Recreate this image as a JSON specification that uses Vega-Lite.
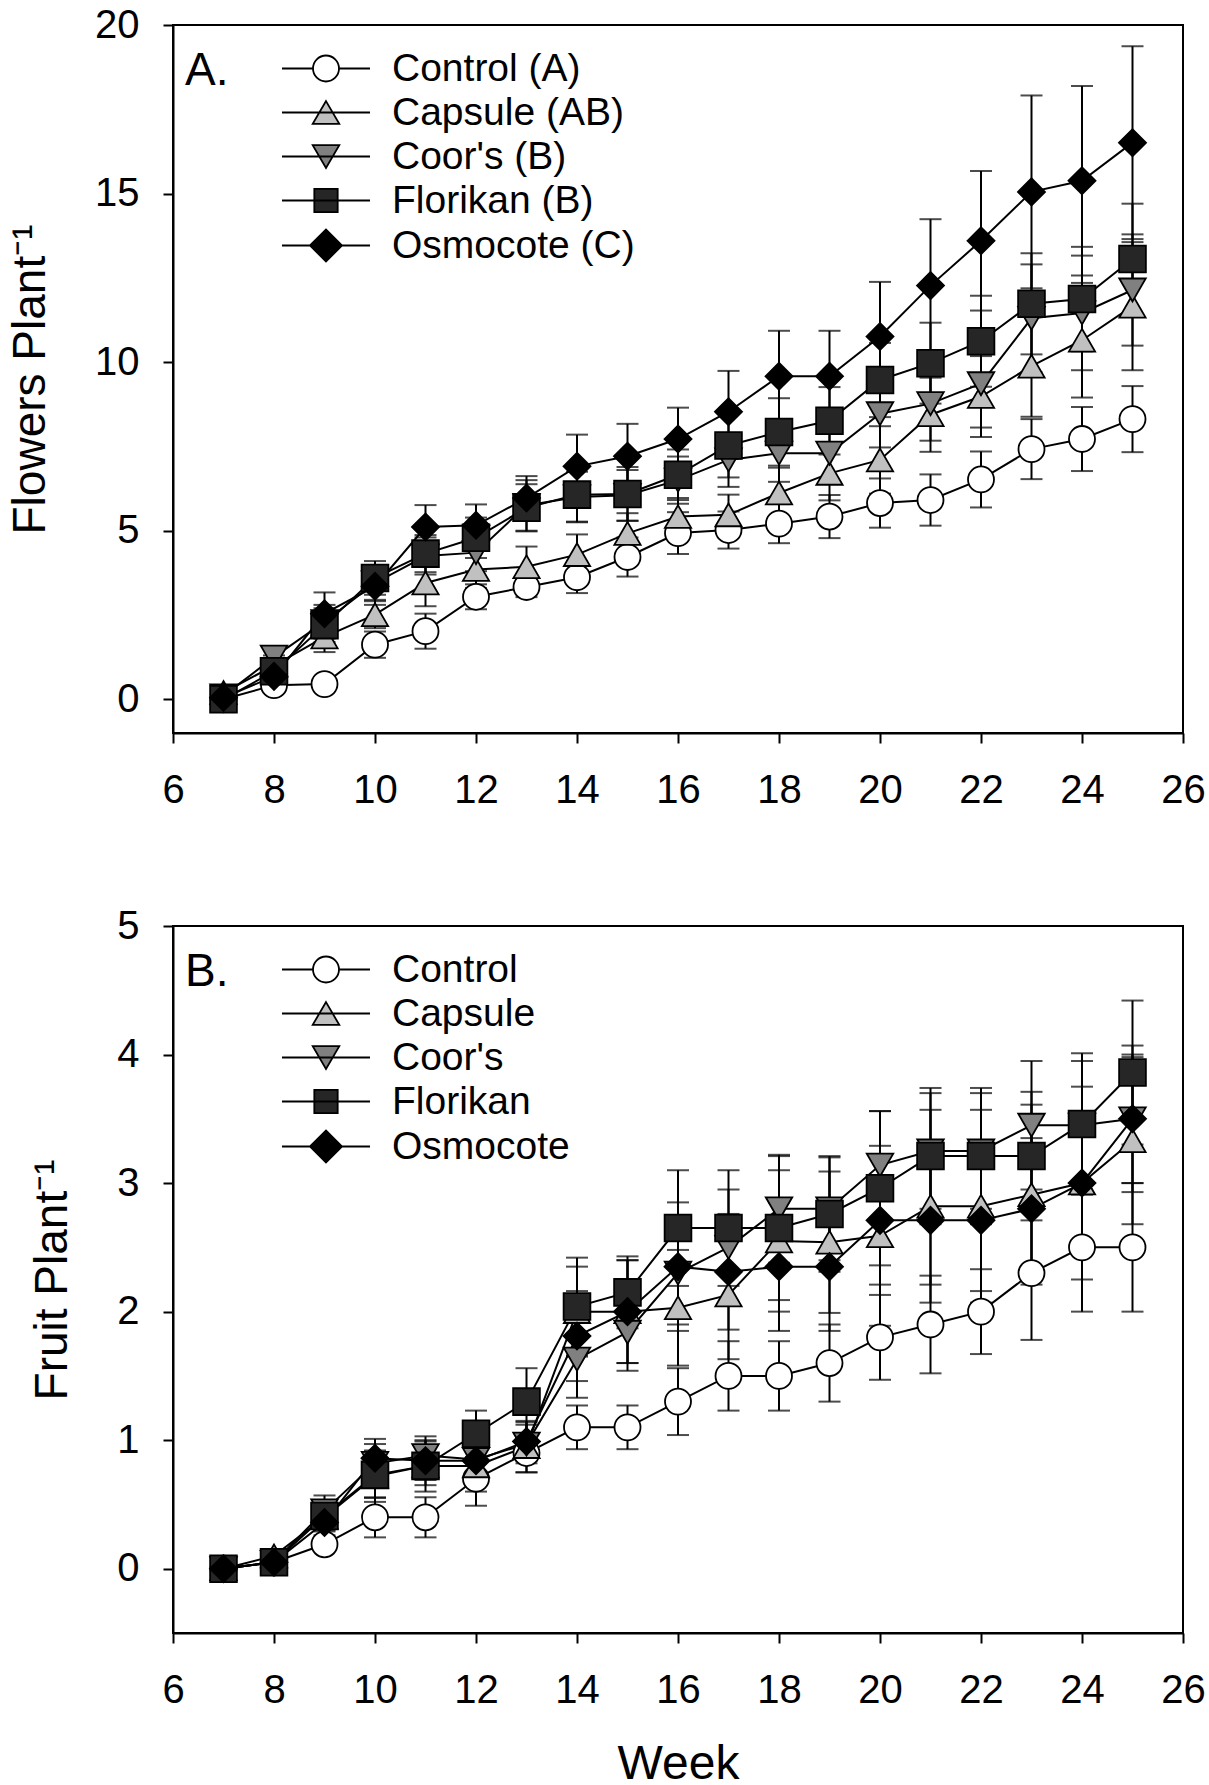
{
  "$schema": "https://vega.github.io/schema/vega-lite/v6.json",
  "padding": {"left": 6, "top": 4, "right": 0, "bottom": 0},
  "bounds": "flush",
  "spacing": 193,
  "datasets": {
    "flowers": [
      {"week":7,"treatment":"Control","mean":0,"se":0},{"week":8,"treatment":"Control","mean":0.42,"se":0.1},{"week":9,"treatment":"Control","mean":0.45,"se":0.1},{"week":10,"treatment":"Control","mean":1.62,"se":0.39},{"week":11,"treatment":"Control","mean":2.02,"se":0.52},{"week":12,"treatment":"Control","mean":3.04,"se":0.37},{"week":13,"treatment":"Control","mean":3.33,"se":0.3},{"week":14,"treatment":"Control","mean":3.62,"se":0.47},{"week":15,"treatment":"Control","mean":4.22,"se":0.58},{"week":16,"treatment":"Control","mean":4.93,"se":0.62},{"week":17,"treatment":"Control","mean":5.02,"se":0.55},{"week":18,"treatment":"Control","mean":5.21,"se":0.58},{"week":19,"treatment":"Control","mean":5.42,"se":0.64},{"week":20,"treatment":"Control","mean":5.82,"se":0.73},{"week":21,"treatment":"Control","mean":5.91,"se":0.76},{"week":22,"treatment":"Control","mean":6.52,"se":0.83},{"week":23,"treatment":"Control","mean":7.42,"se":0.89},{"week":24,"treatment":"Control","mean":7.72,"se":0.95},{"week":25,"treatment":"Control","mean":8.31,"se":0.98},
      {"week":7,"treatment":"Capsule","mean":0.2,"se":0.1},{"week":8,"treatment":"Capsule","mean":1.0,"se":0.3},{"week":9,"treatment":"Capsule","mean":1.85,"se":0.45},{"week":10,"treatment":"Capsule","mean":2.51,"se":0.4},{"week":11,"treatment":"Capsule","mean":3.45,"se":0.69},{"week":12,"treatment":"Capsule","mean":3.85,"se":0.55},{"week":13,"treatment":"Capsule","mean":3.93,"se":0.6},{"week":14,"treatment":"Capsule","mean":4.29,"se":0.6},{"week":15,"treatment":"Capsule","mean":4.92,"se":0.6},{"week":16,"treatment":"Capsule","mean":5.42,"se":0.55},{"week":17,"treatment":"Capsule","mean":5.47,"se":0.6},{"week":18,"treatment":"Capsule","mean":6.12,"se":0.75},{"week":19,"treatment":"Capsule","mean":6.7,"se":0.8},{"week":20,"treatment":"Capsule","mean":7.1,"se":1.0},{"week":21,"treatment":"Capsule","mean":8.44,"se":1.1},{"week":22,"treatment":"Capsule","mean":8.98,"se":1.2},{"week":23,"treatment":"Capsule","mean":9.88,"se":1.5},{"week":24,"treatment":"Capsule","mean":10.65,"se":1.7},{"week":25,"treatment":"Capsule","mean":11.66,"se":1.9},
      {"week":7,"treatment":"Coor's","mean":0.1,"se":0.05},{"week":8,"treatment":"Coor's","mean":1.25,"se":0.2},{"week":9,"treatment":"Coor's","mean":2.3,"se":0.5},{"week":10,"treatment":"Coor's","mean":3.45,"se":0.5},{"week":11,"treatment":"Coor's","mean":4.25,"se":0.55},{"week":12,"treatment":"Coor's","mean":4.35,"se":0.55},{"week":13,"treatment":"Coor's","mean":5.75,"se":0.75},{"week":14,"treatment":"Coor's","mean":6.0,"se":0.75},{"week":15,"treatment":"Coor's","mean":6.05,"se":0.75},{"week":16,"treatment":"Coor's","mean":6.5,"se":0.7},{"week":17,"treatment":"Coor's","mean":7.1,"se":0.8},{"week":18,"treatment":"Coor's","mean":7.3,"se":0.85},{"week":19,"treatment":"Coor's","mean":7.3,"se":0.9},{"week":20,"treatment":"Coor's","mean":8.47,"se":1.0},{"week":21,"treatment":"Coor's","mean":8.77,"se":1.1},{"week":22,"treatment":"Coor's","mean":9.36,"se":1.3},{"week":23,"treatment":"Coor's","mean":11.3,"se":1.6},{"week":24,"treatment":"Coor's","mean":11.46,"se":1.7},{"week":25,"treatment":"Coor's","mean":12.14,"se":1.65},
      {"week":7,"treatment":"Florikan","mean":0.0,"se":0.05},{"week":8,"treatment":"Florikan","mean":0.83,"se":0.2},{"week":9,"treatment":"Florikan","mean":2.2,"se":0.5},{"week":10,"treatment":"Florikan","mean":3.6,"se":0.5},{"week":11,"treatment":"Florikan","mean":4.32,"se":0.55},{"week":12,"treatment":"Florikan","mean":4.79,"se":0.6},{"week":13,"treatment":"Florikan","mean":5.68,"se":0.7},{"week":14,"treatment":"Florikan","mean":6.07,"se":0.8},{"week":15,"treatment":"Florikan","mean":6.09,"se":0.8},{"week":16,"treatment":"Florikan","mean":6.66,"se":0.75},{"week":17,"treatment":"Florikan","mean":7.53,"se":0.95},{"week":18,"treatment":"Florikan","mean":7.93,"se":1.0},{"week":19,"treatment":"Florikan","mean":8.26,"se":1.0},{"week":20,"treatment":"Florikan","mean":9.47,"se":1.1},{"week":21,"treatment":"Florikan","mean":9.97,"se":1.2},{"week":22,"treatment":"Florikan","mean":10.62,"se":1.35},{"week":23,"treatment":"Florikan","mean":11.73,"se":1.5},{"week":24,"treatment":"Florikan","mean":11.87,"se":1.55},{"week":25,"treatment":"Florikan","mean":13.06,"se":1.64},
      {"week":7,"treatment":"Osmocote","mean":0.05,"se":0.05},{"week":8,"treatment":"Osmocote","mean":0.68,"se":0.2},{"week":9,"treatment":"Osmocote","mean":2.54,"se":0.63},{"week":10,"treatment":"Osmocote","mean":3.35,"se":0.55},{"week":11,"treatment":"Osmocote","mean":5.11,"se":0.65},{"week":12,"treatment":"Osmocote","mean":5.16,"se":0.62},{"week":13,"treatment":"Osmocote","mean":5.97,"se":0.65},{"week":14,"treatment":"Osmocote","mean":6.91,"se":0.94},{"week":15,"treatment":"Osmocote","mean":7.21,"se":0.96},{"week":16,"treatment":"Osmocote","mean":7.72,"se":0.93},{"week":17,"treatment":"Osmocote","mean":8.53,"se":1.21},{"week":18,"treatment":"Osmocote","mean":9.58,"se":1.35},{"week":19,"treatment":"Osmocote","mean":9.58,"se":1.35},{"week":20,"treatment":"Osmocote","mean":10.76,"se":1.62},{"week":21,"treatment":"Osmocote","mean":12.27,"se":1.97},{"week":22,"treatment":"Osmocote","mean":13.6,"se":2.07},{"week":23,"treatment":"Osmocote","mean":15.05,"se":2.86},{"week":24,"treatment":"Osmocote","mean":15.38,"se":2.81},{"week":25,"treatment":"Osmocote","mean":16.51,"se":2.86}
    ],
    "fruit": [
      {"week":7,"treatment":"Control","mean":0,"se":0},{"week":8,"treatment":"Control","mean":0.05,"se":0.03},{"week":9,"treatment":"Control","mean":0.19,"se":0.05},{"week":10,"treatment":"Control","mean":0.4,"se":0.156},{"week":11,"treatment":"Control","mean":0.4,"se":0.156},{"week":12,"treatment":"Control","mean":0.7,"se":0.21},{"week":13,"treatment":"Control","mean":0.9,"se":0.15},{"week":14,"treatment":"Control","mean":1.1,"se":0.17},{"week":15,"treatment":"Control","mean":1.1,"se":0.17},{"week":16,"treatment":"Control","mean":1.3,"se":0.26},{"week":17,"treatment":"Control","mean":1.5,"se":0.27},{"week":18,"treatment":"Control","mean":1.5,"se":0.27},{"week":19,"treatment":"Control","mean":1.6,"se":0.3},{"week":20,"treatment":"Control","mean":1.8,"se":0.33},{"week":21,"treatment":"Control","mean":1.9,"se":0.38},{"week":22,"treatment":"Control","mean":2.0,"se":0.33},{"week":23,"treatment":"Control","mean":2.3,"se":0.52},{"week":24,"treatment":"Control","mean":2.5,"se":0.5},{"week":25,"treatment":"Control","mean":2.5,"se":0.5},
      {"week":7,"treatment":"Capsule","mean":0,"se":0},{"week":8,"treatment":"Capsule","mean":0.1,"se":0.05},{"week":9,"treatment":"Capsule","mean":0.4,"se":0.1},{"week":10,"treatment":"Capsule","mean":0.72,"se":0.2},{"week":11,"treatment":"Capsule","mean":0.8,"se":0.2},{"week":12,"treatment":"Capsule","mean":0.8,"se":0.2},{"week":13,"treatment":"Capsule","mean":0.95,"se":0.2},{"week":14,"treatment":"Capsule","mean":2.0,"se":0.35},{"week":15,"treatment":"Capsule","mean":2.0,"se":0.4},{"week":16,"treatment":"Capsule","mean":2.03,"se":0.45},{"week":17,"treatment":"Capsule","mean":2.13,"se":0.5},{"week":18,"treatment":"Capsule","mean":2.55,"se":0.55},{"week":19,"treatment":"Capsule","mean":2.54,"se":0.55},{"week":20,"treatment":"Capsule","mean":2.59,"se":0.7},{"week":21,"treatment":"Capsule","mean":2.82,"se":0.75},{"week":22,"treatment":"Capsule","mean":2.82,"se":0.75},{"week":23,"treatment":"Capsule","mean":2.91,"se":0.7},{"week":24,"treatment":"Capsule","mean":3.0,"se":0.75},{"week":25,"treatment":"Capsule","mean":3.33,"se":0.65},
      {"week":7,"treatment":"Coor's","mean":0,"se":0},{"week":8,"treatment":"Coor's","mean":0.05,"se":0.05},{"week":9,"treatment":"Coor's","mean":0.45,"se":0.12},{"week":10,"treatment":"Coor's","mean":0.82,"se":0.15},{"week":11,"treatment":"Coor's","mean":0.88,"se":0.15},{"week":12,"treatment":"Coor's","mean":0.85,"se":0.15},{"week":13,"treatment":"Coor's","mean":0.97,"se":0.15},{"week":14,"treatment":"Coor's","mean":1.63,"se":0.3},{"week":15,"treatment":"Coor's","mean":1.84,"se":0.3},{"week":16,"treatment":"Coor's","mean":2.3,"se":0.4},{"week":17,"treatment":"Coor's","mean":2.5,"se":0.45},{"week":18,"treatment":"Coor's","mean":2.8,"se":0.42},{"week":19,"treatment":"Coor's","mean":2.8,"se":0.4},{"week":20,"treatment":"Coor's","mean":3.14,"se":0.42},{"week":21,"treatment":"Coor's","mean":3.25,"se":0.45},{"week":22,"treatment":"Coor's","mean":3.25,"se":0.45},{"week":23,"treatment":"Coor's","mean":3.45,"se":0.5},{"week":24,"treatment":"Coor's","mean":3.45,"se":0.5},{"week":25,"treatment":"Coor's","mean":3.5,"se":0.5},
      {"week":7,"treatment":"Florikan","mean":0,"se":0},{"week":8,"treatment":"Florikan","mean":0.05,"se":0.03},{"week":9,"treatment":"Florikan","mean":0.41,"se":0.12},{"week":10,"treatment":"Florikan","mean":0.73,"se":0.18},{"week":11,"treatment":"Florikan","mean":0.8,"se":0.15},{"week":12,"treatment":"Florikan","mean":1.05,"se":0.18},{"week":13,"treatment":"Florikan","mean":1.3,"se":0.26},{"week":14,"treatment":"Florikan","mean":2.04,"se":0.38},{"week":15,"treatment":"Florikan","mean":2.15,"se":0.28},{"week":16,"treatment":"Florikan","mean":2.65,"se":0.45},{"week":17,"treatment":"Florikan","mean":2.65,"se":0.45},{"week":18,"treatment":"Florikan","mean":2.65,"se":0.56},{"week":19,"treatment":"Florikan","mean":2.76,"se":0.45},{"week":20,"treatment":"Florikan","mean":2.96,"se":0.6},{"week":21,"treatment":"Florikan","mean":3.21,"se":0.53},{"week":22,"treatment":"Florikan","mean":3.21,"se":0.53},{"week":23,"treatment":"Florikan","mean":3.21,"se":0.5},{"week":24,"treatment":"Florikan","mean":3.46,"se":0.55},{"week":25,"treatment":"Florikan","mean":3.86,"se":0.56},
      {"week":7,"treatment":"Osmocote","mean":0,"se":0},{"week":8,"treatment":"Osmocote","mean":0.05,"se":0.03},{"week":9,"treatment":"Osmocote","mean":0.36,"se":0.1},{"week":10,"treatment":"Osmocote","mean":0.86,"se":0.15},{"week":11,"treatment":"Osmocote","mean":0.84,"se":0.15},{"week":12,"treatment":"Osmocote","mean":0.84,"se":0.12},{"week":13,"treatment":"Osmocote","mean":0.99,"se":0.15},{"week":14,"treatment":"Osmocote","mean":1.81,"se":0.35},{"week":15,"treatment":"Osmocote","mean":2.0,"se":0.4},{"week":16,"treatment":"Osmocote","mean":2.35,"se":0.5},{"week":17,"treatment":"Osmocote","mean":2.31,"se":0.45},{"week":18,"treatment":"Osmocote","mean":2.35,"se":0.5},{"week":19,"treatment":"Osmocote","mean":2.35,"se":0.5},{"week":20,"treatment":"Osmocote","mean":2.71,"se":0.5},{"week":21,"treatment":"Osmocote","mean":2.71,"se":0.5},{"week":22,"treatment":"Osmocote","mean":2.71,"se":0.55},{"week":23,"treatment":"Osmocote","mean":2.8,"se":0.55},{"week":24,"treatment":"Osmocote","mean":3.0,"se":0.55},{"week":25,"treatment":"Osmocote","mean":3.5,"se":0.57}
    ]
  },
  "vconcat": [
    {
      "width": 1010,
      "height": 708,
      "data": {"name": "flowers"},
      "encoding": {
        "x": {"field": "week", "type": "quantitative", "scale": {"domain": [6, 26], "nice": false, "zero": false}, "axis": {"title": null, "values": [6, 8, 10, 12, 14, 16, 18, 20, 22, 24, 26]}},
        "y": {"field": "mean", "type": "quantitative", "scale": {"domain": [-1, 20], "nice": false, "zero": false}, "axis": {"title": "Flowers Plant\u207b\u00b9", "values": [0, 5, 10, 15, 20]}}
      },
      "layer": [
        {"mark": {"type": "errorbar", "ticks": {"size": 22, "thickness": 2, "color": "black"}, "rule": {"strokeWidth": 2, "color": "black"}}, "encoding": {"yError": {"field": "se"}}},
        {"mark": {"type": "line", "color": "black", "strokeWidth": 2}, "encoding": {"detail": {"field": "treatment", "type": "nominal"}}},
        {"mark": {"type": "point", "filled": true, "stroke": "black", "strokeWidth": 1.8, "opacity": 1},
         "encoding": {
           "shape": {"field": "treatment", "type": "nominal", "scale": {"domain": ["Control", "Capsule", "Coor's", "Florikan", "Osmocote"], "range": ["circle", "triangle-up", "triangle-down", "square", "diamond"]}, "legend": null},
           "fill": {"field": "treatment", "type": "nominal", "scale": {"domain": ["Control", "Capsule", "Coor's", "Florikan", "Osmocote"], "range": ["#ffffff", "#c0c0c0", "#808080", "#262626", "#000000"]}, "legend": null},
           "size": {"field": "treatment", "type": "nominal", "scale": {"domain": ["Control", "Capsule", "Coor's", "Florikan", "Osmocote"], "range": [676, 729, 729, 529, 1024]}, "legend": null}
         }},
        {"mark": {"type": "point", "filled": true, "stroke": "black", "strokeWidth": 1.8, "opacity": 0},
         "encoding": {
           "shape": {"field": "treatment", "type": "nominal", "scale": {"domain": ["Control", "Capsule", "Coor's", "Florikan", "Osmocote"], "range": ["M-2.75,0L-0.8125,0M0.8125,0L2.75,0M0.8125,0A0.8125,0.8125,0,1,1,-0.8125,0A0.8125,0.8125,0,1,1,0.8125,0Z", "M-2.75,0L2.75,0M0,-0.71L0.83,0.71L-0.83,0.71Z", "M-2.75,0L2.75,0M-0.83,-0.71L0.83,-0.71L0,0.71Z", "M-2.75,0L2.75,0M-0.73,-0.73L0.73,-0.73L0.73,0.73L-0.73,0.73Z", "M-2.75,0L-1,0M1,0L2.75,0M-1,0L0,-1L1,0L0,1Z"]},
             "legend": {"title": "A.", "orient": "none", "legendX": 12, "legendY": 24, "titleOrient": "left", "titleAnchor": "start", "titleAlign": "left", "titleFontSize": 46, "titleFontWeight": "normal", "titleColor": "black", "titleBaseline": "line-top", "titleLineHeight": 45, "titlePadding": 77.5, "labelFontSize": 39, "labelColor": "black", "labelOffset": 46.5, "labelLimit": 500, "symbolSize": 1024, "symbolStrokeWidth": 1.8, "symbolStrokeColor": "black", "symbolFillColor": "white", "symbolOpacity": 1, "rowPadding": 4, "padding": 0,
               "labelExpr": "datum.label == 'Control' ? 'Control (A)' : datum.label == 'Capsule' ? 'Capsule (AB)' : datum.label == 'Florikan' ? 'Florikan (B)' : datum.label == 'Osmocote' ? 'Osmocote (C)' : datum.label + ' (B)'"}},
           "fill": {"field": "treatment", "type": "nominal", "scale": {"domain": ["Control", "Capsule", "Coor's", "Florikan", "Osmocote"], "range": ["#ffffff", "#c0c0c0", "#808080", "#262626", "#000000"]},
             "legend": {"title": "A.", "orient": "none", "legendX": 12, "legendY": 24, "titleOrient": "left", "titleAnchor": "start", "titleAlign": "left", "titleFontSize": 46, "titleFontWeight": "normal", "titleColor": "black", "titleBaseline": "line-top", "titleLineHeight": 45, "titlePadding": 77.5, "labelFontSize": 39, "labelColor": "black", "labelOffset": 46.5, "labelLimit": 500, "symbolSize": 1024, "symbolStrokeWidth": 1.8, "symbolStrokeColor": "black", "symbolFillColor": "white", "symbolOpacity": 1, "rowPadding": 4, "padding": 0,
               "labelExpr": "datum.label == 'Control' ? 'Control (A)' : datum.label == 'Capsule' ? 'Capsule (AB)' : datum.label == 'Florikan' ? 'Florikan (B)' : datum.label == 'Osmocote' ? 'Osmocote (C)' : datum.label + ' (B)'"}}
         }}
      ],
      "resolve": {"scale": {"shape": "independent", "fill": "independent", "size": "independent"}}
    },
    {
      "width": 1010,
      "height": 707,
      "data": {"name": "fruit"},
      "encoding": {
        "x": {"field": "week", "type": "quantitative", "scale": {"domain": [6, 26], "nice": false, "zero": false}, "axis": {"title": "Week", "values": [6, 8, 10, 12, 14, 16, 18, 20, 22, 24, 26]}},
        "y": {"field": "mean", "type": "quantitative", "scale": {"domain": [-0.5, 5], "nice": false, "zero": false}, "axis": {"title": "Fruit Plant\u207b\u00b9", "values": [0, 1, 2, 3, 4, 5]}}
      },
      "layer": [
        {"mark": {"type": "errorbar", "ticks": {"size": 22, "thickness": 2, "color": "black"}, "rule": {"strokeWidth": 2, "color": "black"}}, "encoding": {"yError": {"field": "se"}}},
        {"mark": {"type": "line", "color": "black", "strokeWidth": 2}, "encoding": {"detail": {"field": "treatment", "type": "nominal"}}},
        {"mark": {"type": "point", "filled": true, "stroke": "black", "strokeWidth": 1.8, "opacity": 1},
         "encoding": {
           "shape": {"field": "treatment", "type": "nominal", "scale": {"domain": ["Control", "Capsule", "Coor's", "Florikan", "Osmocote"], "range": ["circle", "triangle-up", "triangle-down", "square", "diamond"]}, "legend": null},
           "fill": {"field": "treatment", "type": "nominal", "scale": {"domain": ["Control", "Capsule", "Coor's", "Florikan", "Osmocote"], "range": ["#ffffff", "#c0c0c0", "#808080", "#262626", "#000000"]}, "legend": null},
           "size": {"field": "treatment", "type": "nominal", "scale": {"domain": ["Control", "Capsule", "Coor's", "Florikan", "Osmocote"], "range": [676, 729, 729, 529, 1024]}, "legend": null}
         }},
        {"mark": {"type": "point", "filled": true, "stroke": "black", "strokeWidth": 1.8, "opacity": 0},
         "encoding": {
           "shape": {"field": "treatment", "type": "nominal", "scale": {"domain": ["Control", "Capsule", "Coor's", "Florikan", "Osmocote"], "range": ["M-2.75,0L-0.8125,0M0.8125,0L2.75,0M0.8125,0A0.8125,0.8125,0,1,1,-0.8125,0A0.8125,0.8125,0,1,1,0.8125,0Z", "M-2.75,0L2.75,0M0,-0.71L0.83,0.71L-0.83,0.71Z", "M-2.75,0L2.75,0M-0.83,-0.71L0.83,-0.71L0,0.71Z", "M-2.75,0L2.75,0M-0.73,-0.73L0.73,-0.73L0.73,0.73L-0.73,0.73Z", "M-2.75,0L-1,0M1,0L2.75,0M-1,0L0,-1L1,0L0,1Z"]},
             "legend": {"title": "B.", "orient": "none", "legendX": 12, "legendY": 24, "titleOrient": "left", "titleAnchor": "start", "titleAlign": "left", "titleFontSize": 46, "titleFontWeight": "normal", "titleColor": "black", "titleBaseline": "line-top", "titleLineHeight": 45, "titlePadding": 77.5, "labelFontSize": 39, "labelColor": "black", "labelOffset": 46.5, "labelLimit": 500, "symbolSize": 1024, "symbolStrokeWidth": 1.8, "symbolStrokeColor": "black", "symbolFillColor": "white", "symbolOpacity": 1, "rowPadding": 4, "padding": 0}},
           "fill": {"field": "treatment", "type": "nominal", "scale": {"domain": ["Control", "Capsule", "Coor's", "Florikan", "Osmocote"], "range": ["#ffffff", "#c0c0c0", "#808080", "#262626", "#000000"]},
             "legend": {"title": "B.", "orient": "none", "legendX": 12, "legendY": 24, "titleOrient": "left", "titleAnchor": "start", "titleAlign": "left", "titleFontSize": 46, "titleFontWeight": "normal", "titleColor": "black", "titleBaseline": "line-top", "titleLineHeight": 45, "titlePadding": 77.5, "labelFontSize": 39, "labelColor": "black", "labelOffset": 46.5, "labelLimit": 500, "symbolSize": 1024, "symbolStrokeWidth": 1.8, "symbolStrokeColor": "black", "symbolFillColor": "white", "symbolOpacity": 1, "rowPadding": 4, "padding": 0}}
         }}
      ],
      "resolve": {"scale": {"shape": "independent", "fill": "independent", "size": "independent"}}
    }
  ],
  "config": {
    "font": "Liberation Sans",
    "background": "white",
    "view": {"stroke": "black", "strokeWidth": 2},
    "axis": {"grid": false, "domainColor": "black", "domainWidth": 2, "tickColor": "black", "tickWidth": 2, "tickSize": 10, "labelFontSize": 40, "labelColor": "black", "titleFontSize": 46, "titleFontWeight": "normal", "titleColor": "black", "labelOverlap": false},
    "axisX": {"labelPadding": 27, "labelFlush": false, "titleFontSize": 48, "titlePadding": 30},
    "axisY": {"labelPadding": 24, "titlePadding": 40}
  }
}
